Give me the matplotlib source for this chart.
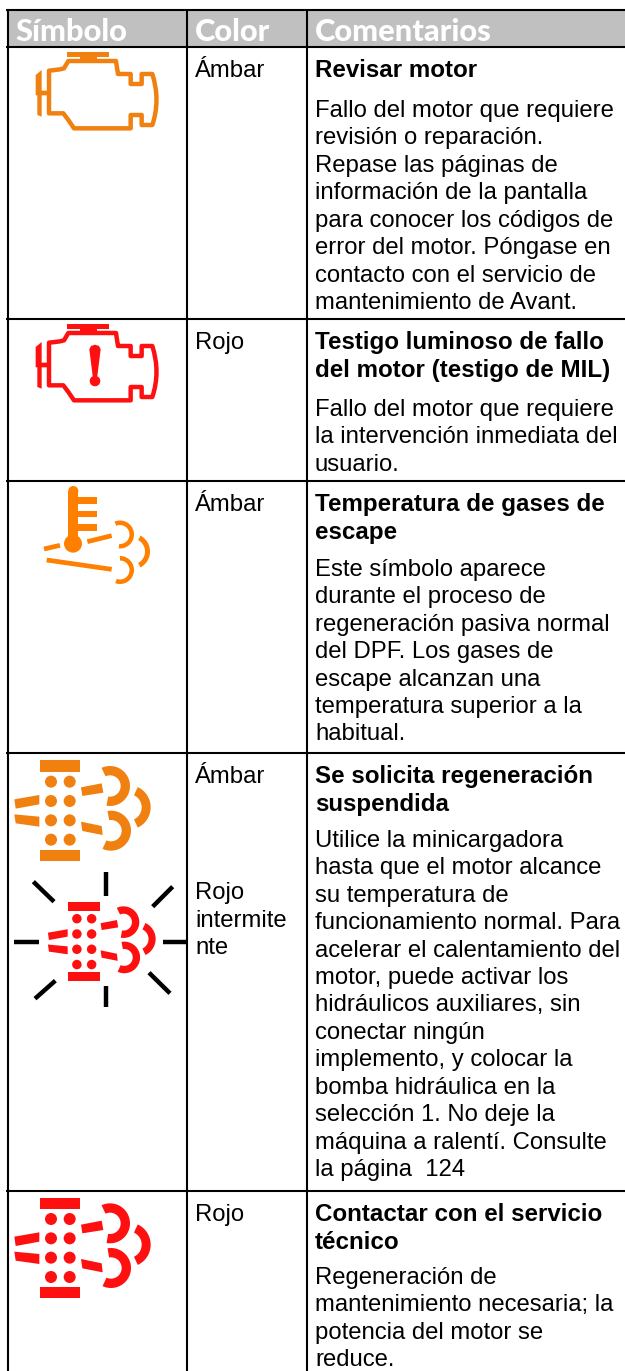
import numpy as np
import matplotlib
matplotlib.use("Agg")
import matplotlib.pyplot as plt
from matplotlib.patches import Polygon, Rectangle, Circle, PathPatch
from matplotlib.path import Path

W, H = 625, 1371
headers = ["Símbolo", "Color", "Comentarios"]
colors_col = [["Ámbar"], ["Rojo"], ["Ámbar"], ["Ámbar", None, "Rojo", "intermite", "nte"], ["Rojo"]]
titles = [["Revisar motor"],
          ["Testigo luminoso de fallo", "del motor (testigo de MIL)"],
          ["Temperatura de gases de", "escape"],
          ["Se solicita regeneración", "suspendida"],
          ["Contactar con el servicio", "técnico"]]
bodies = [["Fallo del motor que requiere", "revisión o reparación.", "Repase las páginas de",
           "información de la pantalla", "para conocer los códigos de", "error del motor. Póngase en",
           "contacto con el servicio de", "mantenimiento de Avant."],
          ["Fallo del motor que requiere", "la intervención inmediata del", "usuario."],
          ["Este símbolo aparece", "durante el proceso de", "regeneración pasiva normal",
           "del DPF. Los gases de", "escape alcanzan una", "temperatura superior a la", "habitual."],
          ["Utilice la minicargadora", "hasta que el motor alcance", "su temperatura de",
           "funcionamiento normal. Para", "acelerar el calentamiento del", "motor, puede activar los",
           "hidráulicos auxiliares, sin", "conectar ningún", "implemento, y colocar la",
           "bomba hidráulica en la", "selección 1. No deje la", "máquina a ralentí. Consulte",
           "la página  124"],
          ["Regeneración de", "mantenimiento necesaria; la", "potencia del motor se", "reduce."]]
row_tops = [47, 319, 481, 753, 1191]
body_tops = [109, 408, 568, 839, 1276]

AMBER = "#F0800F"
AMBER2 = "#FF8000"
RED = "#FF1010"
LH = 27.45
FS = 17.2
FS_BOLD = 17.4
FONT = "Liberation Sans"

fig = plt.figure(figsize=(W/100, H/100), dpi=100)
ax = fig.add_axes([0, 0, 1, 1])
ax.set_xlim(0, W); ax.set_ylim(H, 0); ax.axis("off")

# header + grid
ax.add_patch(Rectangle((7, 10), W-7, 37, fc="#C0C0C0", ec="none", zorder=1))
LW = 1.5
for x in (7.5, 187, 306.5):
    ax.plot([x, x], [9, H], color="k", lw=LW, solid_capstyle="butt", zorder=3)
for y in [10]+row_tops:
    ax.plot([6, W], [y, y], color="k", lw=LW, solid_capstyle="butt", zorder=3)

for t, x in zip(headers, (15, 195, 315)):
    ax.text(x, 41, t, color="white", fontsize=22.2, family="Lato", weight="black", va="baseline", zorder=4)

def line(x, cy, s, bold=False):
    ax.text(x, cy+7.8, s, fontsize=FS_BOLD if bold else FS, family=FONT, weight="bold" if bold else "normal",
            va="baseline", ha="left", color="k", zorder=4)

for i, top in enumerate(row_tops):
    y0 = top+22.5
    for j, s in enumerate(colors_col[i]):
        if s:
            line(195, y0 + (j*LH if j == 0 else 116 + (j-2)*LH), s)
    for j, s in enumerate(titles[i]):
        line(315, y0+j*LH, s, True)
    for j, s in enumerate(bodies[i]):
        line(315, body_tops[i]+j*LH, s)

# ---- icon helpers (coordinates in icon-local units, 3 units = 1 px) ----
def T(pts, ox, oy, s=1/3):
    p = np.asarray(pts, float)
    return np.c_[ox+p[:, 0]*s, oy+p[:, 1]*s]

def arc_pts(cx, cy, ro, ri, a0, a1, n=40):
    a = np.radians(np.linspace(a0, a1, n))
    o = np.c_[cx+ro*np.cos(a), cy+ro*np.sin(a)]
    i = np.c_[cx+ri*np.cos(a[::-1]), cy+ri*np.sin(a[::-1])]
    return np.r_[o, i]

def engine(oy, col, bang=False):
    ax.add_patch(Polygon(T([(200,157),(327,157),(327,171),(292,171),(292,185),(240,185),(240,171),(200,171)], 0, oy),
                         fc=col, ec="none", zorder=2))
    verts = [(147,228),(147,212),(165,210),(180,208),(192,205),(205,183),(335,183),(348,183),(350,197),(354,222),(360,222),
             (392,222),(392,252),(425,252),(425,222),(457,222),(482,300),(457,375),(425,375),(425,345),(392,345),
             (392,372),(392,385),(375,385),(240,385),(222,385),(205,360),(190,340),(165,340),(147,340),(147,320),(147,228)]
    codes = [Path.MOVETO] + [Path.LINETO]*15 + [Path.CURVE3, Path.CURVE3] + [Path.LINETO]*14
    ax.add_patch(PathPatch(Path(T(verts, 0, oy), codes), fc="none", ec=col, lw=3.2, joinstyle="round", zorder=2))
    ax.add_patch(Polygon(T([(107,225),(125,210),(125,272),(145,272),(145,286),(125,286),(125,350),(112,345),(112,286),(107,286)], 0, oy),
                         fc=col, ec="none", zorder=2))
    if bang:
        ax.add_patch(Polygon(T([(268,232),(273,222),(285,218),(297,222),(302,232),(292,312),(278,312)], 0, oy),
                             fc=col, ec="none", zorder=2))
        ax.add_patch(Circle((95, oy+109), 5.3, fc=col, ec="none", zorder=2))

def thermo():
    c, oy = AMBER2, 360
    ax.add_patch(Rectangle((68.3, 491), 10, 52, fc=c, ec="none", zorder=2))
    ax.add_patch(Circle((73.3, 491), 5, fc=c, ec="none", zorder=2))
    ax.add_patch(Circle((73, oy+551/3), 9, fc=c, ec="none", zorder=2))
    for y0, y1 in [(410,432),(452,472),(492,512)]:
        ax.add_patch(Rectangle((235/3, oy+y0/3), 56/3, (y1-y0)/3, fc=c, ec="none", zorder=2))
    for (a, b) in [((132,567),(180,556)), ((262,545),(335,527)), ((140,600),(335,628))]:
        ax.plot(*T([a, b], 0, oy).T, color=c, lw=3.4, solid_capstyle="butt", zorder=2)
    for cx, cy, ro, ri, a0, a1 in [(120,534.5,14,9.5,-113,95), (120,570,14,9.5,-90,110), (132,551.5,18,13,-62,62)]:
        ax.add_patch(Polygon(arc_pts(cx, cy, ro, ri, a0, a1), fc=c, ec="none", zorder=2))

def dpf(cx, cy, s, col):
    """icon drawn around (180,181.5) in local units"""
    def M(pts):
        p = np.asarray(pts, float)
        return np.c_[cx+(p[:, 0]-180)*s/3, cy+(p[:, 1]-181.5)*s/3]
    for y0, y1 in [(31,65),(299,332)]:
        ax.add_patch(Polygon(M([(121,y0),(240,y0),(240,y1),(121,y1)]), fc=col, ec="none", zorder=2))
    for x in (153, 209):
        for y in (95,153,211,269):
            ax.add_patch(Circle(tuple(M([(x,y)])[0]), 18*s/3, fc=col, ec="none", zorder=2))
    for q in ([(43,148),(118,135),(118,163),(47,176)], [(43,193),(118,200),(118,230),(47,220)],
              [(243,112),(305,100),(310,128),(247,138)], [(243,215),(305,228),(308,255),(247,243)]):
        ax.add_patch(Polygon(M(q), fc=col, ec="none", zorder=2))
    for a in [(330,108,60,32,-115,100), (333,242,60,32,-100,115), (385,172,67,40,-65,65)]:
        ax.add_patch(Polygon(M(arc_pts(*a)), fc=col, ec="none", zorder=2))

engine(0, AMBER)
engine(272, RED, True)
thermo()
dpf(60, 750+181.5/3, 1, AMBER)
dpf(84, 750+574.5/3, 0.79, RED)
dpf(60, 1180+(54+353)/2/3, 1, RED)

rays = [((319,367),(319,438)), ((319,708),(319,772)), ((43,575),(117,575)), ((489,575),(558,575)),
        ((100,395),(162,455)), ((518,410),(458,470)), ((166,692),(105,746)), ((447,668),(510,730))]
for a, b in rays:
    ax.plot(*T([a, b], 0, 750).T, color="k", lw=3.2, solid_capstyle="butt", zorder=2)

fig.savefig("out.png", dpi=100)
